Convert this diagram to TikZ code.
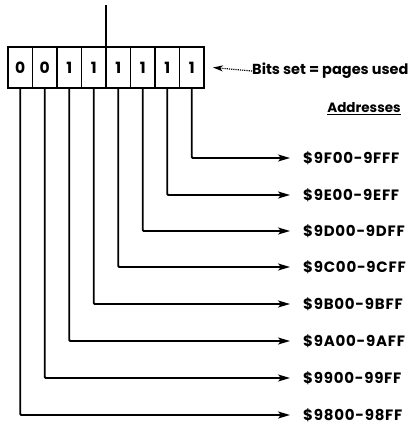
\documentclass[tikz,border=0pt]{standalone}
\usepackage{fontspec}
\setsansfont{Poppins}
\newfontfamily\spaced{Poppins}[LetterSpace=5]
\usetikzlibrary{arrows.meta}
\begin{document}
\begin{tikzpicture}[x=1pt,y=-1pt,
  cell/.style={draw,line width=1.4pt,minimum width=24.5pt,minimum height=41pt,inner sep=0pt,
    font=\sffamily\fontsize{15.5}{15.5}\selectfont\bfseries},
  addr/.style={anchor=west,inner sep=0pt,font=\spaced\fontsize{15}{15}\selectfont\bfseries},
  wire/.style={line width=1.8pt,-{Stealth[length=12pt,width=7pt,inset=3pt]},shorten >=13pt,rounded corners=1pt}]
\useasboundingbox (0,0) rectangle (415,428);
\foreach \v [count=\i] in {0,0,1,1,1,1,1,1}
  \node[cell] (b\i) at ({8+24.5*(\i-0.5)},67.5) {\v};
\coordinate (top) at (106,5);
\draw[line width=1.8pt] (top) -- (106,47);
\node[anchor=west,inner sep=0pt,font=\sffamily\fontsize{14.5}{14.5}\selectfont\bfseries] (bits) at (252,71) {Bits set = pages used};
\draw[line width=1.2pt,densely dotted,-{Stealth[length=10pt,width=6pt,inset=3pt]}] (bits.west) -- (b8.east -| 213,0);
\node[font=\sffamily\fontsize{13.5}{13.5}\selectfont\bfseries,inner sep=0pt] (hdr) at (364,109) {\underline{Addresses}};
\foreach \lab/\y [count=\i from 8] in {9F00-9FFF/158,9E00-9EFF/195,9D00-9DFF/231,9C00-9CFF/267,9B00-9BFF/304,9A00-9AFF/341,9900-99FF/378,9800-98FF/415}{
  \pgfmathtruncatemacro{\j}{16-\i}
  \node[addr] (a\j) at (303,\y) {\$\lab};
  \draw[wire] (b\j.south) |- (a\j.west);
}
\end{tikzpicture}
\end{document}
